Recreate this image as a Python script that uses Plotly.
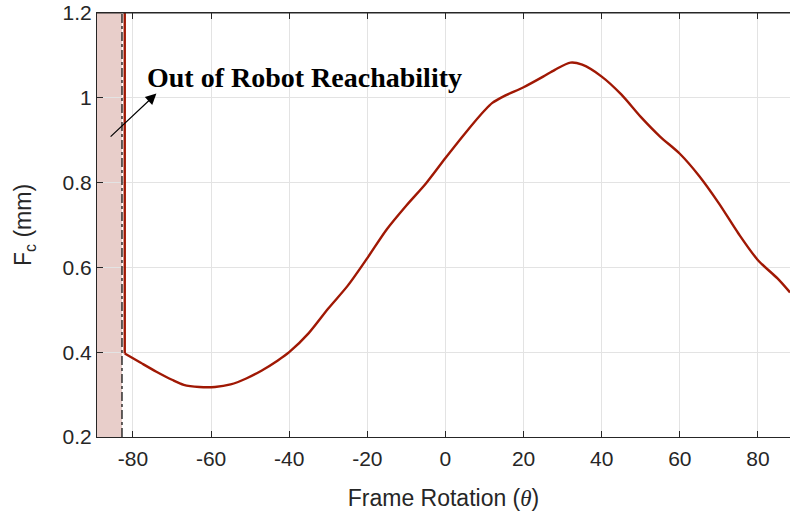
import plotly.graph_objects as go

# Reachability limit of the robot (frame rotation, degrees)
reach_limit = -82.8
edge_theta = [-82.1, -82.1]
edge_fc = [1.25, 0.397]

# Contact force curve vs. frame rotation
theta = [-82.1, -78, -74, -70, -67, -63, -59, -55, -51, -47, -43, -40, -35, -30,
         -25, -20, -15, -10, -5, 0, 5, 10, 12, 15, 20, 25, 28, 32, 35, 40, 45, 50,
         55, 60, 65, 70, 75, 80, 85, 88.2]
fc = [0.397, 0.375, 0.354, 0.335, 0.323, 0.318, 0.318, 0.324, 0.338, 0.357, 0.380,
      0.400, 0.445, 0.503, 0.557, 0.622, 0.690, 0.746, 0.798, 0.858, 0.916, 0.970,
      0.988, 1.004, 1.025, 1.050, 1.066, 1.083, 1.078, 1.050, 1.008, 0.955, 0.908,
      0.868, 0.815, 0.751, 0.680, 0.617, 0.574, 0.541]

x_ticks = [-80, -60, -40, -20, 0, 20, 40, 60, 80]
x_labels = ["-80", "-60", "-40", "-20", "0", "20", "40", "60", "80"]
y_ticks = [0.2, 0.4, 0.6, 0.8, 1.0, 1.2]
y_labels = ["0.2", "0.4", "0.6", "0.8", "1", "1.2"]

line_color = "rgb(160,24,4)"
axis_color = "#262626"
grid_color = "#e3e3e3"

fig = go.Figure()
fig.add_trace(go.Scatter(x=edge_theta, y=edge_fc, mode="lines",
                         line=dict(color=line_color, width=2.4),
                         showlegend=False, cliponaxis=True))
fig.add_trace(go.Scatter(x=theta, y=fc, mode="lines",
                         line=dict(color=line_color, width=2.4, shape="spline", smoothing=0.8),
                         showlegend=False))

# Unreachable zone
fig.add_vrect(x0=-95, x1=reach_limit, fillcolor="rgb(232,206,202)", line_width=0,
              layer="below")
fig.add_shape(type="line", x0=reach_limit, x1=reach_limit, y0=0, y1=1,
              xref="x", yref="paper", line=dict(color="black", width=1.2, dash="dashdot"))
# top frame line
fig.add_shape(type="line", x0=0, x1=1, y0=1, y1=1, xref="paper", yref="paper",
              line=dict(color=axis_color, width=1))

fig.add_annotation(x=-74.0, y=1.01, ax=-86.1, ay=0.905, xref="x", yref="y",
                   axref="x", ayref="y", text="", showarrow=True,
                   arrowhead=2, arrowsize=1.8, arrowwidth=1.2, arrowcolor="black")
fig.add_annotation(x=-76.9, y=1.048, xref="x", yref="y", xanchor="left", yanchor="middle",
                   text="<b>Out of Robot Reachability</b>", showarrow=False,
                   font=dict(family="Liberation Serif", size=28, color="black"))

fig.update_xaxes(range=[-89.2, 88.2], tickvals=x_ticks, ticktext=x_labels,
                 showgrid=True, gridcolor=grid_color, gridwidth=1,
                 showline=True, linecolor=axis_color, linewidth=1, mirror="ticks",
                 ticks="inside", ticklen=6, tickcolor=axis_color,
                 tickfont=dict(family="Liberation Sans", size=21, color=axis_color),
                 ticklabelstandoff=3,
                 zeroline=False,
                 title=dict(text='Frame Rotation (<span style="font-family:Liberation Serif"><i>θ</i></span>)',
                            font=dict(family="Liberation Sans", size=23, color=axis_color),
                            standoff=20))
fig.update_yaxes(range=[0.2, 1.2], tickvals=y_ticks, ticktext=y_labels,
                 showgrid=True, gridcolor=grid_color, gridwidth=1,
                 showline=True, linecolor=axis_color, linewidth=1,
                 ticks="inside", ticklen=6, tickcolor=axis_color,
                 tickfont=dict(family="Liberation Sans", size=21, color=axis_color),
                 zeroline=False,
                 title=dict(text="F<sub>c</sub> (mm)",
                            font=dict(family="Liberation Sans", size=23, color=axis_color),
                            standoff=24))

fig.update_layout(width=790, height=515, margin=dict(l=97, r=0, t=13, b=78, autoexpand=False),
                  plot_bgcolor="white", paper_bgcolor="white")

fig.write_html("out.html")
